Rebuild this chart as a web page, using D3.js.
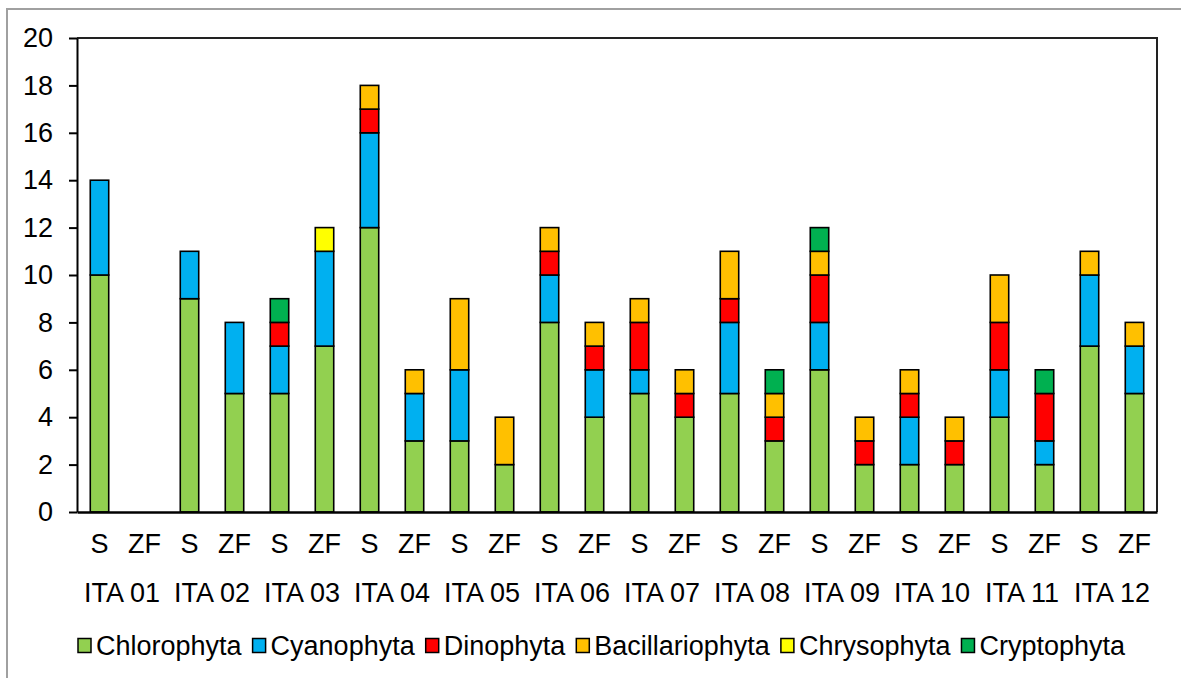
<!DOCTYPE html>
<html>
<head>
<meta charset="utf-8">
<script src="https://cdn.jsdelivr.net/npm/d3@7"></script>
<style>
body { margin: 0; background: #fff; }
text { font-family: "Liberation Sans", Arial, sans-serif; fill: #000; }
</style>
</head>
<body>
<svg width="1181" height="678"></svg>
<script>
// sample type under each bar and the site under each pair
var categories = ["S","ZF","S","ZF","S","ZF","S","ZF","S","ZF","S","ZF",
                  "S","ZF","S","ZF","S","ZF","S","ZF","S","ZF","S","ZF"];
var sites = ["ITA 01","ITA 02","ITA 03","ITA 04","ITA 05","ITA 06",
             "ITA 07","ITA 08","ITA 09","ITA 10","ITA 11","ITA 12"];
var yTicks = [0,2,4,6,8,10,12,14,16,18,20];

// number of taxa per group (one value per bar)
var chlorophyta     = [10,0,9,5,5,7,12,3,3,2,8,4,5,4,5,3,6,2,2,2,4,2,7,5];
var cyanophyta      = [4,0,2,3,2,4,4,2,3,0,2,2,1,0,3,0,2,0,2,0,2,1,3,2];
var dinophyta       = [0,0,0,0,1,0,1,0,0,0,1,1,2,1,1,1,2,1,1,1,2,2,0,0];
var bacillariophyta = [0,0,0,0,0,0,1,1,3,2,1,1,1,1,2,1,1,1,1,1,2,0,1,1];
var chrysophyta     = [0,0,0,0,0,1,0,0,0,0,0,0,0,0,0,0,0,0,0,0,0,0,0,0];
var cryptophyta     = [0,0,0,0,1,0,0,0,0,0,0,0,0,0,0,1,1,0,0,0,0,1,0,0];

var groups = ["Chlorophyta","Cyanophyta","Dinophyta","Bacillariophyta","Chrysophyta","Cryptophyta"];
var colors = ["#92D050","#00B0F0","#FF0000","#FFC000","#FFFF00","#00B050"];
var series = [chlorophyta, cyanophyta, dinophyta, bacillariophyta, chrysophyta, cryptophyta];

var fontSize = "27px";
var svg = d3.select("svg");

// outer chart border
svg.append("rect")
.attr("x",7)
.attr("y",9)
.attr("width",1200)
.attr("height",700)
.attr("fill","none")
.attr("stroke","#a0a0a0")
.attr("stroke-width",2);

var plotLeft = 77, plotRight = 1157, plotTop = 38, plotBottom = 512;

var rows = categories.map(function(c, i) {
  var r = {idx: i};
  groups.forEach(function(g, k) { r[g] = series[k][i]; });
  return r;
});

var xScale = d3.scaleBand().domain(d3.range(categories.length)).range([plotLeft, plotRight]).padding(0);
var yScale = d3.scaleLinear().domain([0,20]).range([plotBottom, plotTop]);
var barW = xScale.bandwidth() * 0.41;

var stack = d3.stack().keys(groups)(rows);

// plot frame
svg.append("path")
.attr("d","M"+plotLeft+","+plotTop+"H"+plotRight+"V"+plotBottom)
.attr("fill","none")
.attr("stroke","#222")
.attr("stroke-width",2);

var layer = svg.selectAll(".layer")
.data(stack)
.enter()
.append("g")
.attr("class","layer")
.attr("fill",function(d,i){ return colors[i]; });

layer.selectAll("rect")
.data(function(d){ return d.filter(function(s){ return s[1] > s[0]; }); })
.enter()
.append("rect")
.attr("x",function(d){ return xScale(d.data.idx) + (xScale.bandwidth() - barW) / 2; })
.attr("y",function(d){ return yScale(d[1]); })
.attr("width",barW)
.attr("height",function(d){ return yScale(d[0]) - yScale(d[1]); })
.attr("stroke","#000")
.attr("stroke-width",1.6);

// y axis
var yAxis = svg.append("g")
.attr("transform","translate("+plotLeft+",0)")
.call(d3.axisLeft(yScale).tickValues(yTicks).tickSize(8).tickSizeOuter(0).tickPadding(16));
yAxis.select(".domain").attr("stroke","#000").attr("stroke-width",2);
yAxis.selectAll(".tick line").attr("stroke","#000").attr("stroke-width",2);
yAxis.selectAll("text").style("font-size",fontSize).attr("fill","#000");

// x axis
var xAxis = svg.append("g")
.attr("transform","translate(0,"+plotBottom+")")
.call(d3.axisBottom(xScale).tickSize(0).tickSizeOuter(0).tickPadding(22)
  .tickFormat(function(d){ return categories[d]; }));
xAxis.select(".domain").attr("stroke","#000").attr("stroke-width",2.5);
xAxis.selectAll("text").style("font-size",fontSize).attr("fill","#000");

// site labels below pairs
svg.selectAll(".site")
.data(sites)
.enter()
.append("text")
.attr("class","site")
.attr("x",function(d,i){ return xScale(i*2) + xScale.bandwidth(); })
.attr("y",602)
.attr("text-anchor","middle")
.style("font-size",fontSize)
.text(function(d){ return d; });

// legend
var lx = 78;
groups.forEach(function(g, i) {
  svg.append("rect")
  .attr("x",lx)
  .attr("y",638.5)
  .attr("width",13)
  .attr("height",14)
  .attr("fill",colors[i])
  .attr("stroke","#000")
  .attr("stroke-width",1.5);
  var t = svg.append("text")
  .attr("x",lx + 18)
  .attr("y",655)
  .style("font-size",fontSize)
  .text(g);
  lx = lx + 18 + t.node().getComputedTextLength() + 11;
});
</script>
</body>
</html>
